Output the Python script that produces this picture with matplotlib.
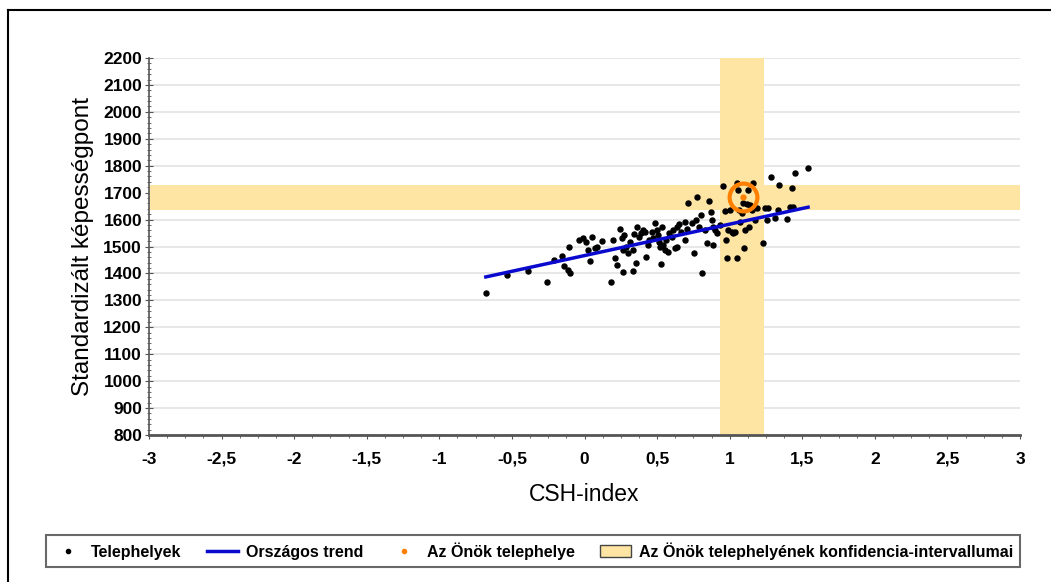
import matplotlib
matplotlib.use('Agg')
import matplotlib.pyplot as plt
from matplotlib.lines import Line2D
from matplotlib.patches import Patch
from matplotlib.ticker import MultipleLocator, FuncFormatter

# Telephelyek (CSH-index, standardizált képességpont)
csh = [-0.679, -0.536, -0.387, -0.256, -0.208, -0.155, -0.139, -0.111, -0.100, -0.107,
       -0.036, -0.008, 0.008, 0.024, 0.038, 0.049, 0.075, 0.088, 0.118, 0.180,
       0.199, 0.210, 0.222, 0.245, 0.256, 0.268, 0.263, 0.274, 0.286, 0.302,
       0.313, 0.336, 0.336, 0.341, 0.355, 0.364, 0.378, 0.389, 0.405, 0.417,
       0.424, 0.440, 0.447, 0.463, 0.474, 0.486, 0.497, 0.509, 0.516, 0.520,
       0.527, 0.532, 0.538, 0.555, 0.561, 0.578, 0.584, 0.600, 0.612, 0.626,
       0.635, 0.640, 0.653, 0.662, 0.692, 0.692, 0.704, 0.715, 0.738, 0.754,
       0.768, 0.777, 0.791, 0.800, 0.809, 0.830, 0.842, 0.860, 0.869, 0.876,
       0.883, 0.887, 0.899, 0.915, 0.933, 0.952, 0.968, 0.975, 0.984, 0.991,
       1.002, 1.014, 1.025, 1.037, 1.048, 1.053, 1.055, 1.067, 1.071, 1.083,
       1.094, 1.099, 1.106, 1.117, 1.129, 1.135, 1.140, 1.152, 1.163, 1.175,
       1.186, 1.227, 1.243, 1.255, 1.266, 1.282, 1.312, 1.335, 1.337, 1.393,
       1.416, 1.427, 1.439, 1.450, 1.542]
pont = [1329, 1394, 1410, 1369, 1450, 1465, 1428, 1413, 1403, 1499,
        1524, 1530, 1518, 1487, 1447, 1536, 1493, 1499, 1522, 1368,
        1524, 1456, 1431, 1565, 1530, 1487, 1407, 1543, 1499, 1475,
        1518, 1487, 1409, 1546, 1437, 1574, 1534, 1549, 1561, 1555,
        1462, 1506, 1524, 1555, 1530, 1588, 1561, 1543, 1518, 1499,
        1435, 1574, 1506, 1487, 1524, 1481, 1549, 1534, 1561, 1493,
        1499, 1574, 1584, 1555, 1524, 1592, 1564, 1663, 1586, 1475,
        1598, 1683, 1571, 1617, 1400, 1561, 1514, 1670, 1629, 1598,
        1574, 1506, 1561, 1549, 1580, 1726, 1632, 1524, 1456, 1561,
        1636, 1555, 1549, 1555, 1737, 1456, 1710, 1636, 1592, 1623,
        1660, 1493, 1561, 1658, 1710, 1574, 1654, 1636, 1737, 1598,
        1642, 1512, 1642, 1598, 1642, 1759, 1605, 1636, 1728, 1601,
        1648, 1718, 1648, 1772, 1790]

# Országos trend (végpontok)
trend_x = [-0.68, 1.54]
trend_y = [1387, 1646]

# Az Önök telephelye és konfidencia-intervallumai
site_x = 1.094
site_y = 1683
ci_x = (0.93, 1.235)
ci_y = (1635, 1728)

band_color = '#FFE5A3'
font = ['Liberation Sans Narrow', 'Liberation Sans', 'DejaVu Sans']
plt.rcParams['font.family'] = font

fig = plt.figure(figsize=(10.51, 5.82), dpi=100)
ax = fig.add_axes([0.1418, 0.2526, 0.8287, 0.6477])

ax.axvspan(ci_x[0], ci_x[1], color=band_color, lw=0, zorder=1)
ax.axhspan(ci_y[0], ci_y[1], color=band_color, lw=0, zorder=1)

ax.scatter(csh, pont, s=13, color='black', zorder=3)
ax.plot(trend_x, trend_y, color='#0A0ACF', lw=2.5, zorder=4)
ax.plot(site_x, site_y, 'o', ms=20, mfc='none', mec='#FF8000', mew=3, zorder=5)
ax.plot(site_x, site_y, 'o', ms=3.5, color='#FF8000', zorder=6)

ax.set_xlim(-3, 3)
ax.set_ylim(800, 2200)
ax.xaxis.set_major_locator(MultipleLocator(0.5))
ax.xaxis.set_minor_locator(MultipleLocator(0.125))
ax.yaxis.set_major_locator(MultipleLocator(100))
ax.yaxis.set_minor_locator(MultipleLocator(20))
ax.xaxis.set_major_formatter(FuncFormatter(lambda v, p: ('%g' % v).replace('.', ',')))

ax.grid(axis='y', color='#E3E3E3', lw=1.2, zorder=0)
ax.set_axisbelow(True)
for s in ['top', 'right']:
    ax.spines[s].set_visible(False)
ax.spines['left'].set_color('#555555')
ax.spines['bottom'].set_color('#555555')
ax.spines['bottom'].set_linewidth(2)
ax.spines['left'].set_linewidth(1.2)

ax.tick_params(axis='y', which='major', direction='inout', length=6, color='#555555',
               labelsize=12.5, pad=2)
ax.tick_params(axis='y', which='minor', direction='inout', length=3, color='#555555')
ax.tick_params(axis='x', which='major', direction='out', length=3, color='#555555',
               labelsize=12.5, pad=9)
ax.tick_params(axis='x', which='minor', direction='out', length=2, color='#555555')
for lab in ax.get_xticklabels() + ax.get_yticklabels():
    lab.set_fontweight('bold')

ax.set_xlabel('CSH-index', fontsize=16.5, family=['Liberation Sans', 'DejaVu Sans'], labelpad=12)
ax.set_ylabel('Standardizált képességpont', fontsize=17.5,
              family=['Liberation Sans', 'DejaVu Sans'], labelpad=7)

handles = [
    Line2D([], [], ls='none', marker='o', ms=3, color='black'),
    Line2D([], [], color='#0A0ACF', lw=2.5),
    Line2D([], [], ls='none', marker='o', ms=3, color='#FF8000'),
    Patch(facecolor=band_color, edgecolor='#444444', lw=1),
]
labels = ['Telephelyek', 'Országos trend', 'Az Önök telephelye',
          'Az Önök telephelyének konfidencia-intervallumai']
leg = fig.legend(handles, labels, loc='center', bbox_to_anchor=(0.507, 0.0535),
                 ncol=4, frameon=True, fancybox=False,
                 handlelength=1.9, columnspacing=1.6, handletextpad=0.5,
                 borderpad=0.45, prop={'weight': 'bold', 'size': 11.5})
leg.get_frame().set_edgecolor('#444444')
leg.get_frame().set_linewidth(1.5)

# outer frame (left and top edges)
fig.add_artist(Line2D([8 / 1051, 8 / 1051], [0, 1 - 10 / 582], color='black', lw=1.5))
fig.add_artist(Line2D([8 / 1051, 1], [1 - 10 / 582, 1 - 10 / 582], color='black', lw=1.5))

fig.savefig('out.png', dpi=100)
